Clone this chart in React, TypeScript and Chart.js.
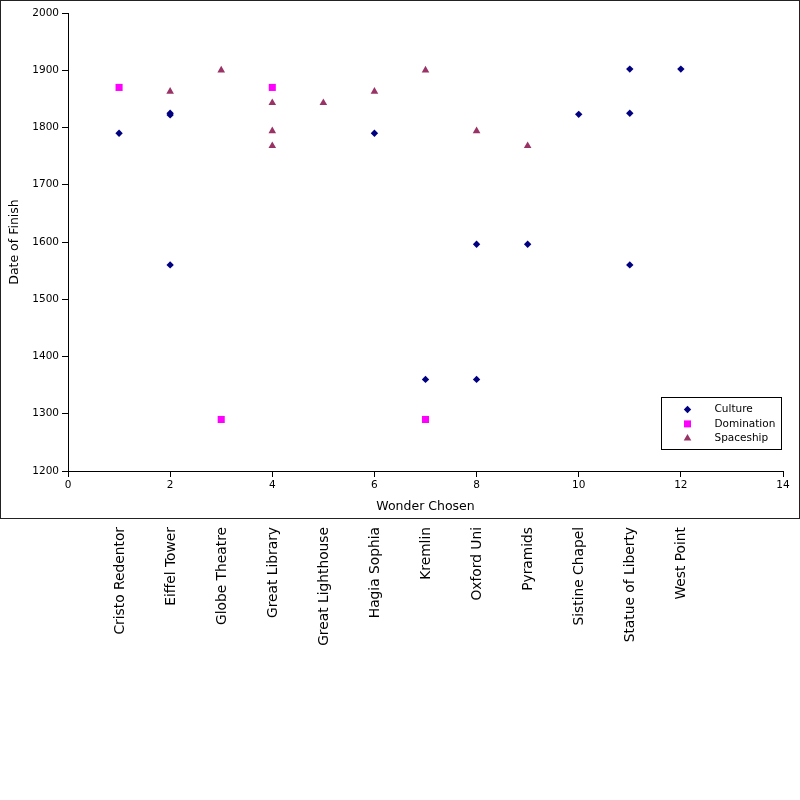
import React, { useEffect, useRef } from 'react';
import { Chart, registerables } from 'chart.js';

Chart.register(...registerables);

const wonderNames = [
  'Cristo Redentor',
  'Eiffel Tower',
  'Globe Theatre',
  'Great Library',
  'Great Lighthouse',
  'Hagia Sophia',
  'Kremlin',
  'Oxford Uni',
  'Pyramids',
  'Sistine Chapel',
  'Statue of Liberty',
  'West Point',
];

const cultureX = [1, 2, 2, 2, 6, 7, 8, 8, 9, 10, 11, 11, 11, 12];
const cultureY = [1790, 1822, 1825, 1560, 1790, 1360, 1596, 1360, 1596, 1823, 1902, 1825, 1560, 1902];

const dominationX = [1, 3, 4, 7];
const dominationY = [1870, 1290, 1870, 1290];

const spaceshipX = [2, 3, 4, 4, 4, 5, 6, 7, 8, 9];
const spaceshipY = [1863, 1900, 1843, 1794, 1768, 1843, 1863, 1900, 1794, 1768];

const seriesNames = ['Culture', 'Domination', 'Spaceship'];
const seriesColors = ['#000080', '#ff00ff', '#993366'];

const X_MIN = 0;
const X_MAX = 14;
const X_STEP = 2;
const Y_MIN = 1200;
const Y_MAX = 2000;
const Y_STEP = 100;

const FONT = '"DejaVu Sans", sans-serif';

function pts(xs: number[], ys: number[]) {
  return xs.map((x, i) => ({ x, y: ys[i] }));
}

function drawMarker(ctx: CanvasRenderingContext2D, style: string, x: number, y: number, color: string) {
  ctx.save();
  ctx.fillStyle = color;
  ctx.beginPath();
  if (style === 'rectRot') {
    const r = 3.7;
    ctx.moveTo(x - r, y);
    ctx.lineTo(x, y - r);
    ctx.lineTo(x + r, y);
    ctx.lineTo(x, y + r);
    ctx.closePath();
  } else if (style === 'rect') {
    const s = 3.5;
    ctx.rect(x - s, y - s, 2 * s, 2 * s);
  } else {
    const r = 4.4;
    ctx.moveTo(x, y - r);
    ctx.lineTo(x + 0.866 * r, y + 0.5 * r);
    ctx.lineTo(x - 0.866 * r, y + 0.5 * r);
    ctx.closePath();
  }
  ctx.fill();
  ctx.restore();
}

const framePlugin = {
  id: 'frameAndLegend',
  afterDraw(chart: any) {
    const ctx = chart.ctx as CanvasRenderingContext2D;
    const xs = chart.scales.x;
    const area = chart.chartArea;
    ctx.save();
    ctx.strokeStyle = '#222';
    ctx.lineWidth = 1;
    ctx.strokeRect(0.5, 0.5, chart.width - 1, xs.bottom - 1);

    const boxW = 120;
    const boxH = 52;
    const right = area.right - 1.5;
    const bottom = area.bottom - 21.5;
    const left = right - boxW;
    const top = bottom - boxH;
    ctx.fillStyle = '#fff';
    ctx.fillRect(left, top, boxW, boxH);
    ctx.strokeStyle = '#000';
    ctx.strokeRect(left, top, boxW, boxH);
    ctx.font = '10.5px ' + FONT;
    ctx.textBaseline = 'middle';
    ctx.textAlign = 'left';
    chart.data.datasets.forEach((ds: any, i: number) => {
      const cy = top + 12 + i * 14.4;
      drawMarker(ctx, ds.pointStyle, left + 26, cy, ds.backgroundColor);
      ctx.fillStyle = '#000';
      ctx.fillText(ds.label, left + 53, cy);
    });
    ctx.restore();
  },
};

export default function App() {
  const canvasRef = useRef<HTMLCanvasElement | null>(null);

  useEffect(() => {
    document.body.style.margin = '0';
    const canvas = canvasRef.current;
    if (!canvas) return;
    const chart = new Chart(canvas, {
      type: 'scatter',
      data: {
        datasets: [
          {
            label: seriesNames[0],
            data: pts(cultureX, cultureY),
            backgroundColor: seriesColors[0],
            borderColor: seriesColors[0],
            borderWidth: 0,
            pointStyle: 'rectRot',
            pointRadius: 3.7,
            pointHoverRadius: 3.7,
          },
          {
            label: seriesNames[1],
            data: pts(dominationX, dominationY),
            backgroundColor: seriesColors[1],
            borderColor: seriesColors[1],
            borderWidth: 0,
            pointStyle: 'rect',
            pointRadius: 5,
            pointHoverRadius: 5,
          },
          {
            label: seriesNames[2],
            data: pts(spaceshipX, spaceshipY),
            backgroundColor: seriesColors[2],
            borderColor: seriesColors[2],
            borderWidth: 0,
            pointStyle: 'triangle',
            pointRadius: 4.4,
            pointHoverRadius: 4.4,
          },
        ],
      },
      options: {
        responsive: false,
        animation: false,
        events: [],
        layout: { padding: { top: 13, right: 17, left: 0, bottom: 0 } },
        plugins: {
          legend: { display: false },
          tooltip: { enabled: false },
        },
        scales: {
          x: {
            type: 'linear',
            position: 'bottom',
            min: X_MIN,
            max: X_MAX,
            ticks: {
              stepSize: X_STEP,
              color: '#000',
              padding: 2,
              font: { family: FONT, size: 10.5 },
              maxRotation: 0,
              minRotation: 0,
              callback: (v: any) => String(v),
            },
            grid: {
              display: true,
              drawOnChartArea: false,
              drawTicks: true,
              tickLength: 6,
              color: '#000',
            },
            border: { display: true, color: '#000', width: 1 },
            title: {
              display: true,
              text: 'Wonder Chosen',
              color: '#000',
              font: { family: FONT, size: 12.5 },
              padding: { top: 2, bottom: 4.5 },
            },
            afterFit: (scale: any) => {
              scale.height = 48;
            },
          },
          y: {
            type: 'linear',
            position: 'left',
            min: Y_MIN,
            max: Y_MAX,
            ticks: {
              stepSize: Y_STEP,
              color: '#000',
              padding: 3,
              font: { family: FONT, size: 10.5 },
              callback: (v: any) => String(v),
            },
            grid: {
              display: true,
              drawOnChartArea: false,
              drawTicks: true,
              tickLength: 6,
              color: '#000',
            },
            border: { display: true, color: '#000', width: 1 },
            title: {
              display: true,
              text: 'Date of Finish',
              color: '#000',
              font: { family: FONT, size: 12.5 },
              padding: { top: 7, bottom: 2 },
            },
            afterFit: (scale: any) => {
              scale.width = 68;
            },
          },
          x2: {
            type: 'linear',
            position: 'bottom',
            min: X_MIN,
            max: X_MAX,
            afterBuildTicks: (scale: any) => {
              scale.ticks = wonderNames.map((_, i) => ({ value: i + 1 }));
            },
            ticks: {
              autoSkip: false,
              color: '#000',
              padding: 8,
              labelOffset: 1,
              font: { family: FONT, size: 13.8 },
              minRotation: 90,
              maxRotation: 90,
              callback: (value: any) => wonderNames[Math.round(Number(value)) - 1] ?? '',
            },
            grid: { display: false, drawTicks: false },
            border: { display: false },
            afterFit: (scale: any) => {
              scale.height = 281;
            },
          },
        },
      },
      plugins: [framePlugin],
    } as any);
    return () => chart.destroy();
  }, []);

  return (
    <div style={{ position: 'absolute', left: 0, top: 0, width: 800, height: 800, background: '#fff' }}>
      <canvas ref={canvasRef} width={800} height={800} style={{ width: 800, height: 800, display: 'block' }} />
    </div>
  );
}
